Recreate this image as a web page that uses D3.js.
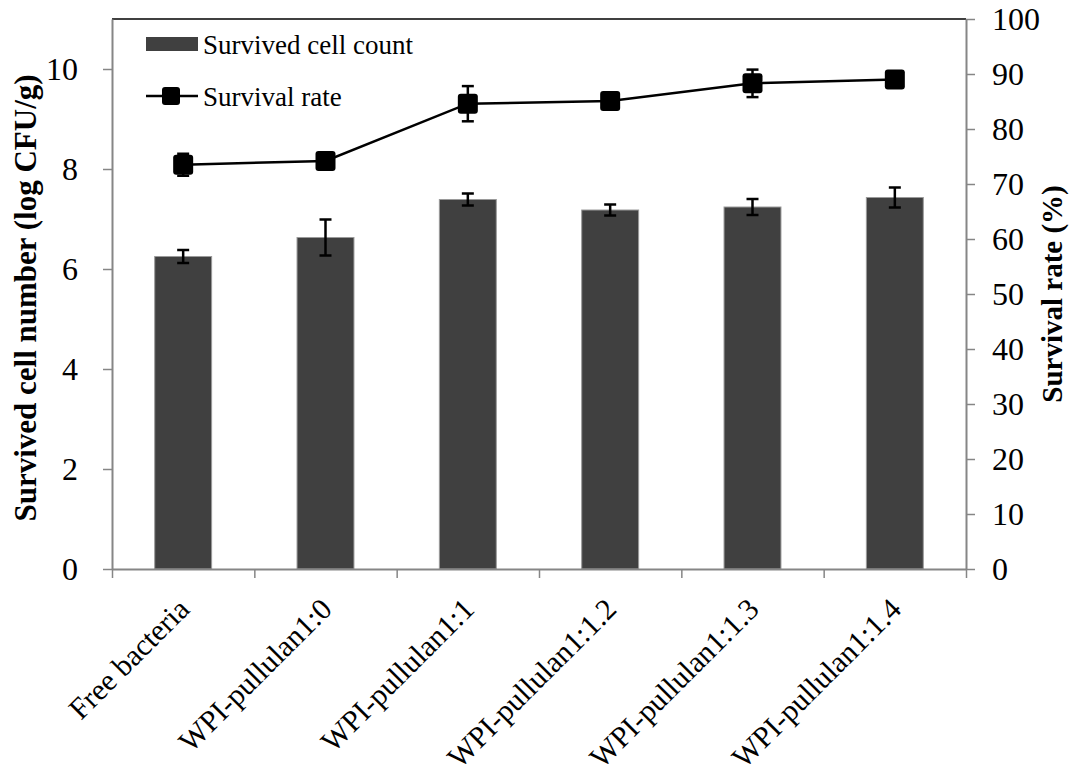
<!DOCTYPE html>
<html>
<head>
<meta charset="utf-8">
<script src="https://cdn.jsdelivr.net/npm/d3@7"></script>
<style>
  body { margin: 0; background: #fff; }
  svg { display: block; font-family: "Liberation Serif", "Times New Roman", serif; }
</style>
</head>
<body>
<svg id="chart" width="1074" height="776"></svg>
<script>
var categories = ['Free bacteria', 'WPI-pullulan1:0', 'WPI-pullulan1:1', 'WPI-pullulan1:1.2', 'WPI-pullulan1:1.3', 'WPI-pullulan1:1.4'];
var cellCount = [6.25, 6.63, 7.39, 7.18, 7.24, 7.43];
var cellCountErr = [0.13, 0.36, 0.12, 0.11, 0.16, 0.2];
var survivalRate = [73.5, 74.2, 84.6, 85.1, 88.3, 89.0];
var survivalRateErr = [2.0, 1.0, 3.2, 0.8, 2.5, 0.8];
var leftTicks = [0, 2, 4, 6, 8, 10];
var rightTicks = [0, 10, 20, 30, 40, 50, 60, 70, 80, 90, 100];

var svg = d3.select('#chart');
// note: "top" is a read-only window global, so use prefixed names
var plotLeft = 112, plotRight = 966, plotTop = 19, plotBottom = 569;
var axisColor = '#868686';

var x = d3.scaleBand().domain(categories).range([plotLeft, plotRight]).padding(0);
var yL = d3.scaleLinear().domain([0, 11]).range([plotBottom, plotTop]);
var yR = d3.scaleLinear().domain([0, 100]).range([plotBottom, plotTop]);
var barW = x.bandwidth() * 0.4;
var cx = function(c) { return x(c) + x.bandwidth() / 2; };

// top border of the plot area
svg.append('line')
  .attr('x1', plotLeft).attr('x2', plotRight)
  .attr('y1', plotTop).attr('y2', plotTop)
  .attr('stroke', '#000').attr('stroke-width', 1.5);

// bars
svg.append('g').selectAll('rect')
  .data(categories)
  .join('rect')
  .attr('x', function(c) { return cx(c) - barW / 2; })
  .attr('width', barW)
  .attr('y', function(c, i) { return yL(cellCount[i]); })
  .attr('height', function(c, i) { return plotBottom - yL(cellCount[i]); })
  .attr('fill', '#404040')
  .attr('stroke', '#9a9a9a')
  .attr('stroke-width', 1);

function errorBars(g, values, errs, scale) {
  var cap = 6;
  var eb = g.selectAll('g')
    .data(categories)
    .join('g');
  eb.append('line')
    .attr('x1', cx).attr('x2', cx)
    .attr('y1', function(c, i) { return scale(values[i] + errs[i]); })
    .attr('y2', function(c, i) { return scale(values[i] - errs[i]); });
  eb.append('line')
    .attr('x1', function(c) { return cx(c) - cap; })
    .attr('x2', function(c) { return cx(c) + cap; })
    .attr('y1', function(c, i) { return scale(values[i] + errs[i]); })
    .attr('y2', function(c, i) { return scale(values[i] + errs[i]); });
  eb.append('line')
    .attr('x1', function(c) { return cx(c) - cap; })
    .attr('x2', function(c) { return cx(c) + cap; })
    .attr('y1', function(c, i) { return scale(values[i] - errs[i]); })
    .attr('y2', function(c, i) { return scale(values[i] - errs[i]); });
  eb.selectAll('line').attr('stroke', '#000').attr('stroke-width', 2.5);
}

errorBars(svg.append('g'), cellCount, cellCountErr, yL);

// survival rate line
var line = d3.line()
  .x(function(d, i) { return cx(categories[i]); })
  .y(function(d) { return yR(d); });

svg.append('path')
  .datum(survivalRate)
  .attr('d', line)
  .attr('fill', 'none')
  .attr('stroke', '#000')
  .attr('stroke-width', 2.5);

errorBars(svg.append('g'), survivalRate, survivalRateErr, yR);

var mk = 20;
svg.append('g').selectAll('rect')
  .data(survivalRate)
  .join('rect')
  .attr('x', function(d, i) { return cx(categories[i]) - mk / 2; })
  .attr('y', function(d) { return yR(d) - mk / 2; })
  .attr('width', mk).attr('height', mk)
  .attr('rx', 3)
  .attr('fill', '#000');

// axes
function styleAxis(g) {
  g.select('.domain').attr('stroke', axisColor).attr('stroke-width', 2);
  g.selectAll('.tick line').attr('stroke', axisColor).attr('stroke-width', 1.5);
  g.selectAll('.tick text').attr('fill', '#000').style('font-size', '32px')
    .style('font-family', '"Liberation Serif", "Times New Roman", serif');
}

svg.append('g')
  .attr('transform', 'translate(' + plotLeft + ',0)')
  .call(d3.axisLeft(yL).tickValues(leftTicks).tickSize(9).tickPadding(25).tickSizeOuter(0))
  .call(styleAxis);

svg.append('g')
  .attr('transform', 'translate(' + plotRight + ',0)')
  .call(d3.axisRight(yR).tickValues(rightTicks).tickSize(9).tickPadding(17).tickSizeOuter(0))
  .call(styleAxis);

// category axis: ticks at band edges, labels rotated
var edges = d3.scaleLinear().domain([0, categories.length]).range([plotLeft, plotRight]);
svg.append('g')
  .attr('transform', 'translate(0,' + plotBottom + ')')
  .call(d3.axisBottom(edges).tickValues(d3.range(categories.length + 1)).tickSize(9).tickFormat('').tickSizeOuter(0))
  .call(styleAxis);

svg.append('g').selectAll('text')
  .data(categories)
  .join('text')
  .attr('transform', function(c) { return 'translate(' + (cx(c) + 8) + ',' + (plotBottom + 42) + ') rotate(-45)'; })
  .attr('text-anchor', 'end')
  .style('font-size', '30px')
  .text(function(c) { return c; });

// axis titles
svg.append('text')
  .attr('transform', 'translate(36,298) rotate(-90)')
  .attr('text-anchor', 'middle')
  .style('font-size', '31px')
  .style('font-weight', 'bold')
  .text('Survived cell number (log CFU/g)');

svg.append('text')
  .attr('transform', 'translate(1062,294) rotate(-90)')
  .attr('text-anchor', 'middle')
  .style('font-size', '29px')
  .style('font-weight', 'bold')
  .text('Survival rate (%)');

// legend
var legend = svg.append('g');
legend.append('rect')
  .attr('x', 146).attr('y', 37).attr('width', 52).attr('height', 14)
  .attr('fill', '#404040');
legend.append('text')
  .attr('x', 203).attr('y', 54)
  .style('font-size', '27px')
  .text('Survived cell count');
legend.append('line')
  .attr('x1', 146).attr('x2', 198).attr('y1', 96).attr('y2', 96)
  .attr('stroke', '#000').attr('stroke-width', 2.5);
legend.append('rect')
  .attr('x', 162).attr('y', 87).attr('width', 18).attr('height', 18)
  .attr('rx', 3).attr('fill', '#000');
legend.append('text')
  .attr('x', 203).attr('y', 106)
  .style('font-size', '27px')
  .text('Survival rate');
</script>
</body>
</html>
